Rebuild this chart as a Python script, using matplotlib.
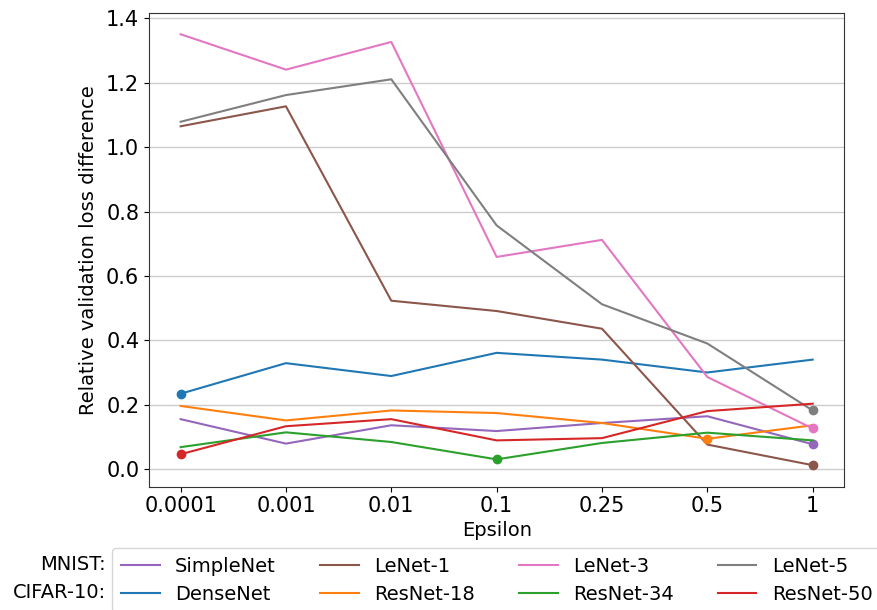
import numpy as np
import matplotlib
matplotlib.use('Agg')
import matplotlib.pyplot as plt

# Epsilon values (categorical x axis)
epsilons = ['0.0001', '0.001', '0.01', '0.1', '0.25', '0.5', '1']

# MNIST models
simplenet = [0.155, 0.079, 0.136, 0.118, 0.143, 0.164, 0.077]
lenet1 = [1.065, 1.127, 0.523, 0.491, 0.436, 0.076, 0.012]
lenet3 = [1.351, 1.241, 1.327, 0.659, 0.712, 0.286, 0.126]
lenet5 = [1.079, 1.162, 1.211, 0.757, 0.512, 0.390, 0.182]

# CIFAR-10 models
densenet = [0.234, 0.329, 0.289, 0.361, 0.340, 0.300, 0.340]
resnet18 = [0.196, 0.151, 0.182, 0.174, 0.143, 0.094, 0.136]
resnet34 = [0.068, 0.114, 0.084, 0.030, 0.081, 0.113, 0.089]
resnet50 = [0.046, 0.133, 0.155, 0.089, 0.096, 0.180, 0.203]

series = [
    ('SimpleNet', simplenet, 'tab:purple'),
    ('DenseNet', densenet, 'tab:blue'),
    ('LeNet-1', lenet1, 'tab:brown'),
    ('ResNet-18', resnet18, 'tab:orange'),
    ('LeNet-3', lenet3, 'tab:pink'),
    ('ResNet-34', resnet34, 'tab:green'),
    ('LeNet-5', lenet5, 'tab:gray'),
    ('ResNet-50', resnet50, 'tab:red'),
]

plt.rcParams['font.size'] = 14
plt.rcParams['xtick.labelsize'] = 15
plt.rcParams['ytick.labelsize'] = 15

fig = plt.figure(figsize=(8.78, 6.10), dpi=100)
ax = fig.add_axes([0.1697, 0.2021, 0.7919, 0.7771])

x = np.arange(len(epsilons))
handles = []
for name, vals, color in series:
    vals = np.array(vals)
    line, = ax.plot(x, vals, color=color, linewidth=1.5, label=name)
    # mark the lowest value of each model
    i_min = int(np.argmin(vals))
    ax.plot(x[i_min], vals[i_min], 'o', color=color, markersize=6)
    handles.append(line)

ax.set_xticks(x)
ax.set_xticklabels(epsilons)
ax.set_xlabel('Epsilon', labelpad=3)
ax.set_ylabel('Relative validation loss difference', labelpad=6)
ax.yaxis.grid(True, color='#cccccc', linewidth=1)
ax.set_axisbelow(True)
for s in ax.spines.values():
    s.set_color('#333333')

fig.legend(handles=handles, ncol=4, loc='upper left',
           bbox_to_anchor=(112 / 878, 1 - 548 / 610),
           fontsize=14, handlelength=2.0, columnspacing=2.25,
           borderaxespad=0, labelspacing=0.45, borderpad=0.45)
fig.text(106 / 878, 1 - 565 / 610, 'MNIST:', ha='right', va='center', fontsize=14)
fig.text(106 / 878, 1 - 593 / 610, 'CIFAR-10:', ha='right', va='center', fontsize=14)

fig.savefig('out.png', dpi=100)
